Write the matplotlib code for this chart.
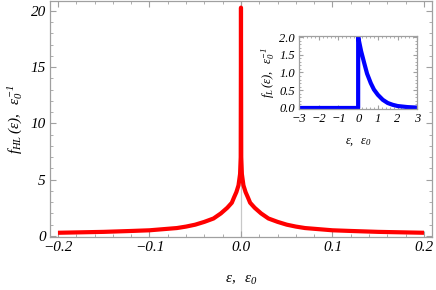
import numpy as np
import matplotlib
matplotlib.use("Agg")
import matplotlib.pyplot as plt
from matplotlib.ticker import MultipleLocator, FuncFormatter

plt.rcParams["font.family"] = ["Liberation Serif", "DejaVu Serif"]
plt.rcParams["font.style"] = "italic"
plt.rcParams["mathtext.fontset"] = "custom"
plt.rcParams["mathtext.rm"] = "Liberation Serif"
plt.rcParams["mathtext.it"] = "Liberation Serif:italic"

# main curve f_HL(eps), right half (curve is symmetric)
eps_half = [0.0003, 0.001, 0.0027, 0.005, 0.0077, 0.01, 0.015, 0.022, 0.03, 0.04,
            0.05, 0.06, 0.07, 0.085, 0.1, 0.12, 0.15, 0.2]
f_half = [7.0, 5.5, 4.5, 3.9, 3.4, 2.95, 2.5, 2.0, 1.55, 1.25,
          1.0, 0.83, 0.7, 0.6, 0.5, 0.44, 0.36, 0.28]
peak = 20.3
eps_hl = [-e for e in eps_half[::-1]] + [0.0] + eps_half
f_hl = f_half[::-1] + [peak] + f_half

# inset curve f_L(eps)
eps_l = [-3.0, -0.001, 0.0, 0.15, 0.3, 0.45, 0.64, 0.8, 1.0, 1.25, 1.5, 1.75, 2.0, 2.5, 3.0]
f_l = [0.0, 0.0, 2.0, 1.6, 1.28, 0.97, 0.70, 0.52, 0.37, 0.23, 0.14, 0.09, 0.055, 0.025, 0.01]

FRAME = "#a0a0a0"


def fmt(nd):
    return FuncFormatter(lambda v, p: f"{v:.{nd}f}".replace("-", "\u2212")
                         if abs(v) > 1e-12 else f"{0:.{nd}f}")


def style_frame(a, major_x, minor_x, major_y, minor_y, fs):
    for sp in a.spines.values():
        sp.set_color(FRAME)
        sp.set_linewidth(0.9)
    a.xaxis.set_major_locator(MultipleLocator(major_x))
    a.xaxis.set_minor_locator(MultipleLocator(minor_x))
    a.yaxis.set_major_locator(MultipleLocator(major_y))
    a.yaxis.set_minor_locator(MultipleLocator(minor_y))
    a.tick_params(which="both", direction="in", top=True, right=True, color=FRAME,
                  labelsize=fs, pad=3)
    a.tick_params(which="major", length=4, width=0.8)
    a.tick_params(which="minor", length=2, width=0.6)


fig = plt.figure(figsize=(4.36, 2.90), dpi=100)
ax = fig.add_axes([0.1147, 0.183, 0.876, 0.814])
ax.axvline(0, color="#c8c8c8", lw=0.9, zorder=1)
ax.plot(eps_hl, f_hl, color="red", lw=3.0, solid_capstyle="butt", zorder=2)
ax.set_xlim(-0.2087, 0.2087)
ax.set_ylim(-0.09, 20.9)
style_frame(ax, 0.1, 0.02, 5, 1, 11)
ax.xaxis.set_major_formatter(fmt(1))
ax.yaxis.set_major_formatter(fmt(0))
ax.set_xlabel(r"$\epsilon,\ \ \epsilon_0$", fontsize=11, labelpad=14)
ax.set_ylabel(r"$f_{HL}\,(\epsilon),\ \ \epsilon_0^{-1}$", fontsize=11, labelpad=4)

ins = fig.add_axes([0.686, 0.624, 0.271, 0.252])
ins.axvline(0, color="#c8c8c8", lw=0.9, zorder=1)
ins.plot(eps_l, f_l, color="blue", lw=3.0, solid_capstyle="butt", zorder=2)
ins.set_xlim(-3, 3)
ins.set_ylim(-0.03, 2.03)
style_frame(ins, 1, 0.2, 0.5, 0.1, 9)
ins.tick_params(which="major", length=3)
ins.tick_params(which="minor", length=1.5)
ins.xaxis.set_major_formatter(fmt(0))
ins.yaxis.set_major_formatter(fmt(1))
ins.set_xlabel(r"$\epsilon,\ \ \epsilon_0$", fontsize=9, labelpad=8)
ins.set_ylabel(r"$f_L\,(\epsilon),\ \ \epsilon_0^{-1}$", fontsize=9, labelpad=2)

fig.savefig("out.png", dpi=100)
